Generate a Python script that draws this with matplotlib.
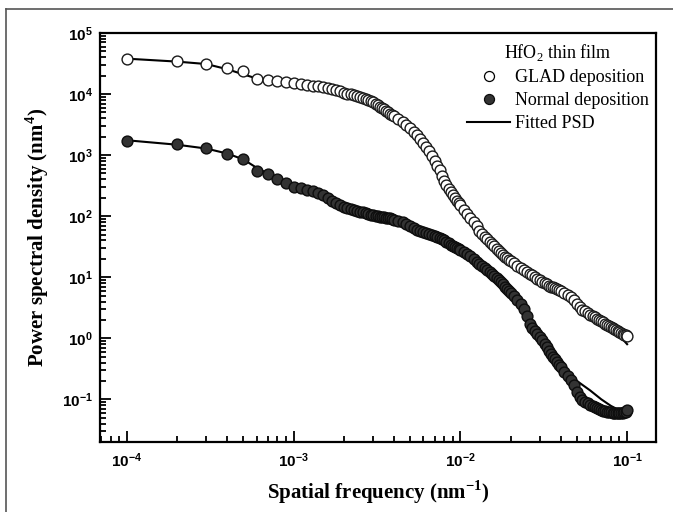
import numpy as np
import matplotlib
matplotlib.use('Agg')
import matplotlib.pyplot as plt
from matplotlib.lines import Line2D
from matplotlib.ticker import LogLocator, LogFormatterMathtext, NullFormatter

plt.rcParams['font.family'] = ['Liberation Sans', 'DejaVu Sans']
plt.rcParams['font.weight'] = 'bold'

freq = [1e-4, 2e-4, 3e-4, 4e-4, 5e-4, 6e-4, 7e-4, 8e-4, 9e-4, 1e-3,
        # 1.1e-3 .. 4.0e-3
        1.1e-3, 1.2e-3, 1.3e-3, 1.4e-3, 1.5e-3, 1.6e-3, 1.7e-3, 1.8e-3, 1.9e-3, 2.0e-3,
        2.1e-3, 2.2e-3, 2.3e-3, 2.4e-3, 2.5e-3, 2.6e-3, 2.7e-3, 2.8e-3, 2.9e-3, 3.0e-3,
        3.1e-3, 3.2e-3, 3.3e-3, 3.4e-3, 3.5e-3, 3.6e-3, 3.7e-3, 3.8e-3, 3.9e-3, 4.0e-3,
        # 4.25e-3 .. 1e-2
        4.25e-3, 4.5e-3, 4.75e-3, 5.0e-3, 5.25e-3, 5.5e-3, 5.75e-3, 6.0e-3,
        6.25e-3, 6.5e-3, 6.75e-3, 7.0e-3, 7.25e-3, 7.5e-3, 7.75e-3, 8.0e-3,
        8.25e-3, 8.5e-3, 8.75e-3, 9.0e-3, 9.25e-3, 9.5e-3, 9.75e-3, 1.0e-2,
        # 1.05e-2 .. 2e-2
        1.05e-2, 1.1e-2, 1.15e-2, 1.2e-2, 1.25e-2, 1.3e-2, 1.35e-2, 1.4e-2, 1.45e-2, 1.5e-2,
        1.55e-2, 1.6e-2, 1.65e-2, 1.7e-2, 1.75e-2, 1.8e-2, 1.85e-2, 1.9e-2, 1.95e-2, 2.0e-2,
        # 2.1e-2 .. 4e-2
        2.1e-2, 2.2e-2, 2.3e-2, 2.4e-2, 2.5e-2, 2.6e-2, 2.7e-2, 2.8e-2, 2.9e-2, 3.0e-2,
        3.1e-2, 3.2e-2, 3.3e-2, 3.4e-2, 3.5e-2, 3.6e-2, 3.7e-2, 3.8e-2, 3.9e-2, 4.0e-2,
        # 4.2e-2 .. 0.1
        4.2e-2, 4.4e-2, 4.6e-2, 4.8e-2, 5.0e-2, 5.2e-2, 5.4e-2, 5.6e-2, 5.8e-2, 6.0e-2,
        6.2e-2, 6.4e-2, 6.6e-2, 6.8e-2, 7.0e-2, 7.2e-2, 7.4e-2, 7.6e-2, 7.8e-2, 8.0e-2,
        8.2e-2, 8.4e-2, 8.6e-2, 8.8e-2, 9.0e-2, 9.2e-2, 9.4e-2, 9.6e-2, 9.8e-2, 1.0e-1]

psd_glad = [3.7e4, 3.44e4, 3.07e4, 2.64e4, 2.35e4, 1.78e4, 1.70e4, 1.62e4, 1.55e4, 1.50e4,
            1.46e4, 1.42e4, 1.38e4, 1.34e4, 1.30e4, 1.26e4, 1.21e4, 1.16e4, 1.11e4, 1.06e4,
            1.02e4, 9.9e3, 9.6e3, 9.3e3, 9.0e3, 8.7e3, 8.35e3, 8.0e3, 7.65e3, 7.3e3,
            6.95e3, 6.6e3, 6.25e3, 5.9e3, 5.6e3, 5.3e3, 5.05e3, 4.8e3, 4.55e3, 4.3e3,
            3.9e3, 3.5e3, 3.1e3, 2.75e3, 2.4e3, 2.1e3, 1.85e3, 1.6e3,
            1.37e3, 1.15e3, 960, 800, 670, 560, 450, 370,
            320, 280, 250, 220, 198, 180, 164, 150,
            128, 110, 94, 80, 68, 58, 51, 46, 42, 38,
            35, 32, 29.5, 27, 25, 23, 21.7, 20.5, 19.5, 18.5,
            17, 15.5, 14.3, 13.2, 12.3, 11.4, 10.7, 10.0, 9.4, 8.9,
            8.4, 8.0, 7.6, 7.3, 7.0, 6.8, 6.6, 6.3, 6.1, 5.9,
            5.5, 5.2, 4.8, 4.3, 3.6, 3.2, 2.95, 2.75, 2.6, 2.45,
            2.3, 2.2, 2.08, 1.98, 1.9, 1.82, 1.74, 1.66, 1.58, 1.52,
            1.46, 1.40, 1.35, 1.30, 1.26, 1.22, 1.18, 1.15, 1.12, 1.10]

psd_normal = [1714, 1496, 1285, 1038, 850, 555, 485, 404, 352, 304,
              290, 272, 254, 236, 218, 195, 175, 162, 150, 140,
              135, 130, 126, 123, 119, 115, 112, 109, 106, 104,
              102, 100, 98, 97, 96, 95, 93.5, 92, 90, 88,
              84, 80, 75, 70, 65, 60, 57, 55,
              53, 52, 50, 48, 46, 44, 42, 40,
              38, 36, 34, 32.5, 31, 30, 28.7, 27.5,
              25.5, 24, 22, 20, 18, 16.5, 15.2, 14, 13, 12,
              11.1, 10.3, 9.6, 8.9, 8.2, 7.6, 7.0, 6.5, 6.0, 5.6,
              4.9, 4.2, 3.6, 3.0, 2.3, 1.7, 1.45, 1.3, 1.17, 1.05,
              0.93, 0.82, 0.72, 0.63, 0.56, 0.50, 0.45, 0.41, 0.37, 0.34,
              0.28, 0.24, 0.21, 0.17, 0.13, 0.11, 0.099, 0.092, 0.086, 0.082,
              0.078, 0.075, 0.072, 0.069, 0.067, 0.065, 0.064, 0.063, 0.062, 0.061,
              0.060, 0.060, 0.059, 0.059, 0.059, 0.060, 0.060, 0.061, 0.063, 0.068]

fit_freq = [1e-4, 2e-4, 3e-4, 4e-4, 5e-4, 6e-4, 7e-4, 8e-4, 1e-3, 1.5e-3,
            2e-3, 2.5e-3, 3e-3, 3.5e-3, 4e-3, 5e-3, 6e-3, 7e-3, 8e-3, 9e-3,
            1e-2, 1.2e-2, 1.5e-2, 2e-2, 2.5e-2, 3e-2, 3.5e-2, 4e-2, 5e-2, 6e-2,
            7e-2, 8e-2, 9e-2, 1e-1]
fit_glad = [3.8e4, 3.4e4, 3.1e4, 2.55e4, 2.1e4, 1.8e4, 1.65e4, 1.58e4, 1.48e4, 1.3e4,
            1.07e4, 9.0e3, 7.4e3, 5.9e3, 4.5e3, 2.8e3, 1.6e3, 800, 380, 230,
            150, 80, 39, 18.5, 12, 8.5, 6.5, 5.0, 3.4, 2.4,
            1.85, 1.45, 1.1, 0.8]
fit_normal = [1750, 1480, 1280, 1060, 850, 620, 500, 420, 310, 215,
              145, 120, 105, 96, 88, 70, 56, 48, 40, 33,
              27.5, 20, 12, 5.6, 2.6, 1.2, 0.6, 0.38, 0.2, 0.14,
              0.10, 0.078, 0.066, 0.062]

fig = plt.figure(figsize=(6.73, 5.12), dpi=100)
ax = fig.add_axes([100/673, 1 - 442/512, 556/673, 409/512])

ax.plot(fit_freq, fit_glad, color='black', lw=1.5, zorder=2)
ax.plot(fit_freq, fit_normal, color='black', lw=1.5, zorder=2)
ax.plot(freq, psd_glad, ls='none', marker='o', ms=7.8, mfc='white', mec='#1a1a1a', mew=1.0, zorder=3)
ax.plot(freq, psd_normal, ls='none', marker='o', ms=7.8, mfc='#333333', mec='#0d0d0d', mew=1.0, zorder=3)

ax.set_xscale('log')
ax.set_yscale('log')
ax.set_xlim(6.9e-5, 0.149)
ax.set_ylim(0.02, 1e5)

for a in (ax.xaxis, ax.yaxis):
    a.set_major_locator(LogLocator(base=10, numticks=20))
    a.set_minor_locator(LogLocator(base=10, subs=np.arange(2, 10), numticks=20))
    a.set_major_formatter(LogFormatterMathtext())
    a.set_minor_formatter(NullFormatter())

ax.tick_params(which='both', direction='in', top=False, right=False, width=1.3)
ax.tick_params(which='major', length=8, labelsize=11)
ax.tick_params(which='minor', length=4.5)
ax.tick_params(axis='y', which='major', pad=5)
ax.tick_params(axis='x', which='major', pad=7)
for s in ax.spines.values():
    s.set_linewidth(1.6)

ax.set_xlabel(r'Spatial frequency (nm$^{\mathdefault{-1}}$)', family='Liberation Serif',
              weight='bold', fontsize=15, labelpad=6)
ax.set_ylabel(r'Power spectral density (nm$^{\mathdefault{4}}$)', family='Liberation Serif',
              weight='bold', fontsize=15, labelpad=8)

handles = [Line2D([], [], ls='none', marker='o', ms=7.2, mfc='white', mec='black', mew=0.9),
           Line2D([], [], ls='none', marker='o', ms=7.2, mfc='#333333', mec='#0d0d0d', mew=0.9),
           Line2D([], [], color='black', lw=1.5)]
leg = ax.legend(handles, ['GLAD deposition', 'Normal deposition', 'Fitted PSD'],
                title=r'HfO$_{\mathdefault{2}}$ thin film', loc='upper right',
                bbox_to_anchor=(1.0, 0.995), frameon=False,
                prop={'family': 'Liberation Serif', 'weight': 'normal', 'size': 13},
                title_fontproperties={'family': 'Liberation Serif', 'weight': 'normal', 'size': 13},
                handlelength=2.4, handletextpad=0.25, labelspacing=0.33, borderpad=0.2,
                borderaxespad=0.2)

# outer frame of the original figure panel
fig.add_artist(Line2D([5.5/673, 5.5/673], [0, 1 - 9/512], transform=fig.transFigure,
                      color='#555555', lw=1.2))
fig.add_artist(Line2D([5.5/673, 1], [1 - 9/512, 1 - 9/512], transform=fig.transFigure,
                      color='#555555', lw=1.2))

fig.savefig('out.png', dpi=100)
